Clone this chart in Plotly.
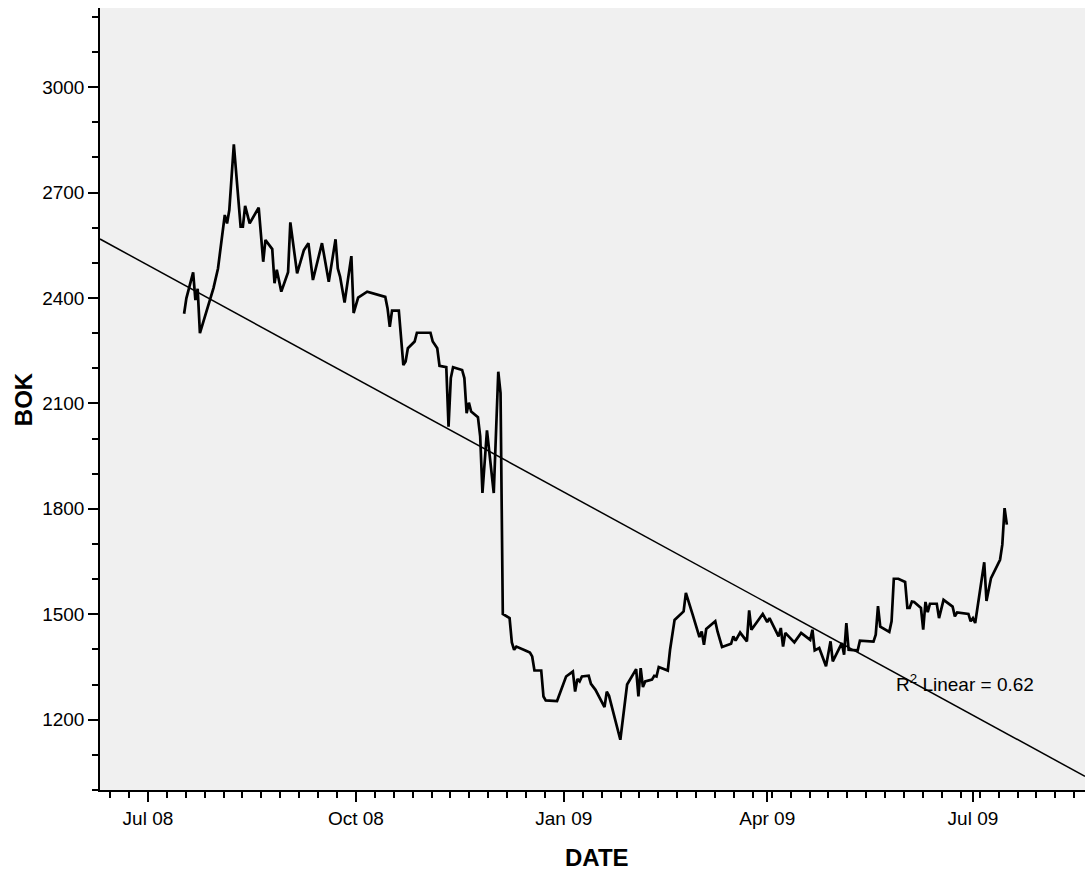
import numpy as np
import pandas as pd
import plotly.graph_objects as go

dates = [
    "2008-07-17", "2008-07-18", "2008-07-21", "2008-07-22", "2008-07-23", "2008-07-24",
    "2008-07-30", "2008-08-01", "2008-08-04", "2008-08-05", "2008-08-06", "2008-08-08",
    "2008-08-11", "2008-08-12", "2008-08-13", "2008-08-15", "2008-08-19", "2008-08-21",
    "2008-08-22", "2008-08-25", "2008-08-26", "2008-08-27", "2008-08-29", "2008-09-01",
    "2008-09-02", "2008-09-05", "2008-09-08", "2008-09-10", "2008-09-12", "2008-09-16",
    "2008-09-19", "2008-09-22", "2008-09-23", "2008-09-24", "2008-09-26", "2008-09-29",
    "2008-09-30", "2008-10-02", "2008-10-06", "2008-10-14", "2008-10-15", "2008-10-16",
    "2008-10-17", "2008-10-20", "2008-10-22", "2008-10-23", "2008-10-24", "2008-10-27",
    "2008-10-28", "2008-11-03", "2008-11-04", "2008-11-06", "2008-11-07", "2008-11-10",
    "2008-11-11", "2008-11-12", "2008-11-13", "2008-11-17", "2008-11-18", "2008-11-19",
    "2008-11-20", "2008-11-21", "2008-11-24", "2008-11-25", "2008-11-26", "2008-11-28",
    "2008-12-01", "2008-12-03", "2008-12-04", "2008-12-05", "2008-12-08", "2008-12-09",
    "2008-12-10", "2008-12-11", "2008-12-15", "2008-12-17", "2008-12-18", "2008-12-19",
    "2008-12-22", "2008-12-23", "2008-12-24", "2008-12-29", "2009-01-02", "2009-01-05",
    "2009-01-06", "2009-01-07", "2009-01-08", "2009-01-09", "2009-01-12", "2009-01-13",
    "2009-01-15", "2009-01-19", "2009-01-20", "2009-01-21", "2009-01-26", "2009-01-29",
    "2009-02-02", "2009-02-03", "2009-02-04", "2009-02-05", "2009-02-06", "2009-02-09",
    "2009-02-10", "2009-02-11", "2009-02-12", "2009-02-16", "2009-02-17", "2009-02-19",
    "2009-02-23", "2009-02-24", "2009-02-27", "2009-03-02", "2009-03-03", "2009-03-04",
    "2009-03-05", "2009-03-09", "2009-03-10", "2009-03-11", "2009-03-12", "2009-03-16",
    "2009-03-17", "2009-03-18", "2009-03-20", "2009-03-23", "2009-03-24", "2009-03-25",
    "2009-03-30", "2009-04-01", "2009-04-02", "2009-04-06", "2009-04-07", "2009-04-08",
    "2009-04-09", "2009-04-13", "2009-04-16", "2009-04-20", "2009-04-21", "2009-04-22",
    "2009-04-24", "2009-04-27", "2009-04-29", "2009-04-30", "2009-05-04", "2009-05-05",
    "2009-05-06", "2009-05-07", "2009-05-11", "2009-05-12", "2009-05-18", "2009-05-19",
    "2009-05-20", "2009-05-21", "2009-05-25", "2009-05-26", "2009-05-27", "2009-05-29",
    "2009-06-01", "2009-06-02", "2009-06-03", "2009-06-04", "2009-06-05", "2009-06-08",
    "2009-06-09", "2009-06-10", "2009-06-11", "2009-06-12", "2009-06-15", "2009-06-16",
    "2009-06-18", "2009-06-22", "2009-06-23", "2009-06-24", "2009-06-29", "2009-06-30",
    "2009-07-01", "2009-07-02", "2009-07-06", "2009-07-07", "2009-07-09", "2009-07-13",
    "2009-07-14", "2009-07-15", "2009-07-16",
]

bok = [
    2355, 2399, 2473, 2394, 2426, 2300,
    2428, 2484, 2636, 2612, 2650, 2837,
    2603, 2603, 2662, 2612, 2657, 2503,
    2565, 2539, 2442, 2480, 2418, 2473,
    2615, 2470, 2536, 2556, 2451, 2556,
    2446, 2567, 2484, 2461, 2387, 2519,
    2357, 2401, 2418, 2403, 2371, 2318,
    2364, 2364, 2209, 2219, 2257, 2276,
    2301, 2301, 2276, 2257, 2207, 2203,
    2034, 2172, 2203, 2195, 2172, 2072,
    2102, 2077, 2061, 2006, 1845, 2023,
    1845, 2190, 2129, 1501, 1489, 1420,
    1399, 1408, 1397, 1391, 1380, 1340,
    1340, 1266, 1255, 1253, 1323, 1337,
    1280, 1316, 1309, 1323, 1325, 1302,
    1285, 1236, 1280, 1268, 1143, 1300,
    1344, 1266, 1347, 1293, 1309, 1314,
    1325, 1323, 1350, 1340, 1399, 1484,
    1508, 1561, 1499, 1435, 1451, 1413,
    1458, 1480, 1451, 1432, 1407, 1416,
    1437, 1425, 1448, 1423, 1511, 1456,
    1501, 1478, 1489, 1437, 1461, 1408,
    1447, 1420, 1447, 1427, 1456, 1397,
    1404, 1352, 1423, 1366, 1418, 1385,
    1475, 1399, 1397, 1425, 1422, 1442,
    1523, 1465, 1450, 1480, 1601, 1601,
    1592, 1518, 1518, 1536, 1535, 1518,
    1456, 1535, 1506, 1530, 1530, 1489,
    1541, 1522, 1494, 1505, 1501, 1480,
    1489, 1475, 1648, 1538, 1603, 1655,
    1698, 1802, 1755,
]

x_range = ["2008-06-09 19:00", "2009-08-19 14:00"]
y_range = [1000, 3225]
r2_label = "R<sup>2</sup> Linear = 0.62"

# linear fit of BOK on date
x = pd.to_datetime(dates)
t0 = pd.Timestamp("2008-07-01")
t = np.array([(d - t0) / pd.Timedelta(days=1) for d in x])
slope, intercept = np.polyfit(t, np.array(bok, dtype=float), 1)
fit_x = pd.to_datetime(x_range)
fit_t = np.array([(d - t0) / pd.Timedelta(days=1) for d in fit_x])
fit_y = intercept + slope * fit_t

fig = go.Figure()
fig.add_trace(go.Scatter(x=list(fit_x), y=list(fit_y), mode="lines",
                         line=dict(color="black", width=1.5), hoverinfo="skip"))
fig.add_trace(go.Scatter(x=list(x), y=bok, mode="lines",
                         line=dict(color="black", width=2.7)))

font_family = "Liberation Sans, Arial, Helvetica, sans-serif"
fig.update_layout(
    width=1085, height=871,
    margin=dict(l=100, r=0, t=8, b=81, pad=0),
    plot_bgcolor="#F0F0F0", paper_bgcolor="white",
    showlegend=False,
    font=dict(family=font_family, size=19, color="black"),
)
fig.update_xaxes(
    type="date", range=x_range, tickformat="%b %y", dtick="M3", tick0="2008-07-01",
    ticks="outside", ticklen=10, tickwidth=1.5, tickcolor="black",
    showline=True, linecolor="black", linewidth=1.5,
    showgrid=False, zeroline=False,
    tickfont=dict(size=19),
    minor=dict(dtick=92 / 11 * 86400000, tick0="2008-07-01", ticks="outside",
               ticklen=6, tickwidth=1.5, tickcolor="black", showgrid=False),
)
fig.update_yaxes(
    range=y_range, dtick=300, tick0=0,
    ticks="outside", ticklen=10, tickwidth=1.5, tickcolor="black",
    showline=True, linecolor="black", linewidth=1.5,
    showgrid=False, zeroline=False,
    tickfont=dict(size=19),
    minor=dict(dtick=100, ticks="outside", ticklen=6, tickwidth=1.5,
               tickcolor="black", showgrid=False),
)

fig.add_annotation(text="<b>DATE</b>", xref="paper", yref="paper",
                   x=0.5046, y=-0.0857, xanchor="center", yanchor="middle",
                   showarrow=False, font=dict(size=24, family=font_family))
fig.add_annotation(text="<b>BOK</b>", xref="paper", yref="paper",
                   x=-0.078, y=0.50, xanchor="center", yanchor="middle",
                   textangle=-90, showarrow=False, font=dict(size=24, family=font_family))
fig.add_annotation(text=r2_label, x="2009-05-27 00:00", y=1305,
                   xanchor="left", yanchor="middle", showarrow=False,
                   font=dict(size=19, family=font_family))

fig.write_html("out.html", config={"displayModeBar": False},
               post_script="document.body.style.margin='0';document.body.style.overflow='hidden';")
